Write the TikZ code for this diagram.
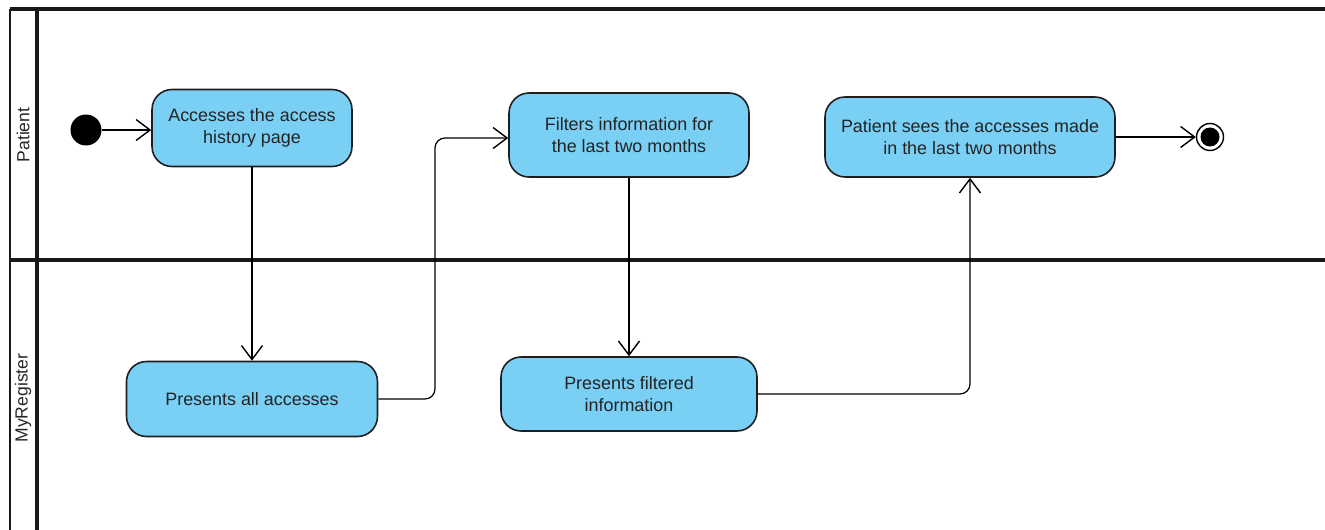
\documentclass[tikz,border=0pt]{standalone}
\usepackage{fontspec}
\setmainfont{Liberation Sans}
\usetikzlibrary{arrows.meta,calc}
\definecolor{actfill}{RGB}{122,207,244}
\definecolor{actline}{RGB}{30,30,30}
\definecolor{acttext}{RGB}{35,35,35}
\begin{document}
\begin{tikzpicture}[x=0.02cm,y=-0.02cm,
  action/.style={draw=actline,line width=0.9pt,fill=actfill,rounded corners=0.4cm,
    align=center,font=\fontsize{10.2}{12.2}\selectfont,text=acttext,inner sep=0pt},
  flow/.style={draw=black,line width=0.7pt,-{Straight Barb[length=2.8mm,width=4.2mm,line width=0.8pt]}},
  lane/.style={line width=2.1pt,draw=black!90},
  lanelabel/.style={rotate=90,font=\fontsize{10}{12}\selectfont,text=black!85}]
\useasboundingbox (0,0) rectangle (1325,530);
% swimlane frame
\draw[lane,line width=1.7pt] (10,530) -- (10,9);
\draw[lane] (10,9) -- (1325,9);
\draw[lane] (37,9) -- (37,530);
\draw[lane] (10,260) -- (1325,260);
\node[lanelabel] (lp) at (23,135) {Patient};
\node[lanelabel] (lm) at (23,398) {MyRegister};
% start and end
\node[circle,fill=black,minimum size=0.62cm,inner sep=0pt] (start) at (86,130) {};
\node[circle,draw=black,line width=0.8pt,fill=white,minimum size=0.54cm,inner sep=0pt] (end) at (1210,137) {};
\node[circle,fill=black,minimum size=0.38cm,inner sep=0pt] (endin) at (end) {};
% actions
\node[action,minimum width=4cm,minimum height=1.54cm] (a1) at (252,128) {Accesses the access\\history page};
\node[action,minimum width=5.02cm,minimum height=1.5cm] (a2) at (252,399) {Presents all accesses};
\node[action,minimum width=4.8cm,minimum height=1.68cm] (a3) at (629,135) {Filters information for\\the last two months};
\node[action,minimum width=5.12cm,minimum height=1.48cm] (a4) at (629,394) {Presents filtered\\information};
\node[action,minimum width=5.8cm,minimum height=1.6cm] (a5) at (970,137) {Patient sees the accesses made\\in the last two months};
% flows
\coordinate (j1) at (435,138);
\draw[flow] (start) -- (a1.west|-start);
\draw[flow] (a1.south) -- (a2.north);
\draw[flow,rounded corners=0.2cm] (a2.east) -| (j1) -- (j1-|a3.west);
\draw[flow] (a3.south) -- (a4.north);
\draw[flow,rounded corners=0.2cm] (a4.east) -| (a5.south);
\draw[flow] (a5.east) -- (end.west);
\end{tikzpicture}
\end{document}
